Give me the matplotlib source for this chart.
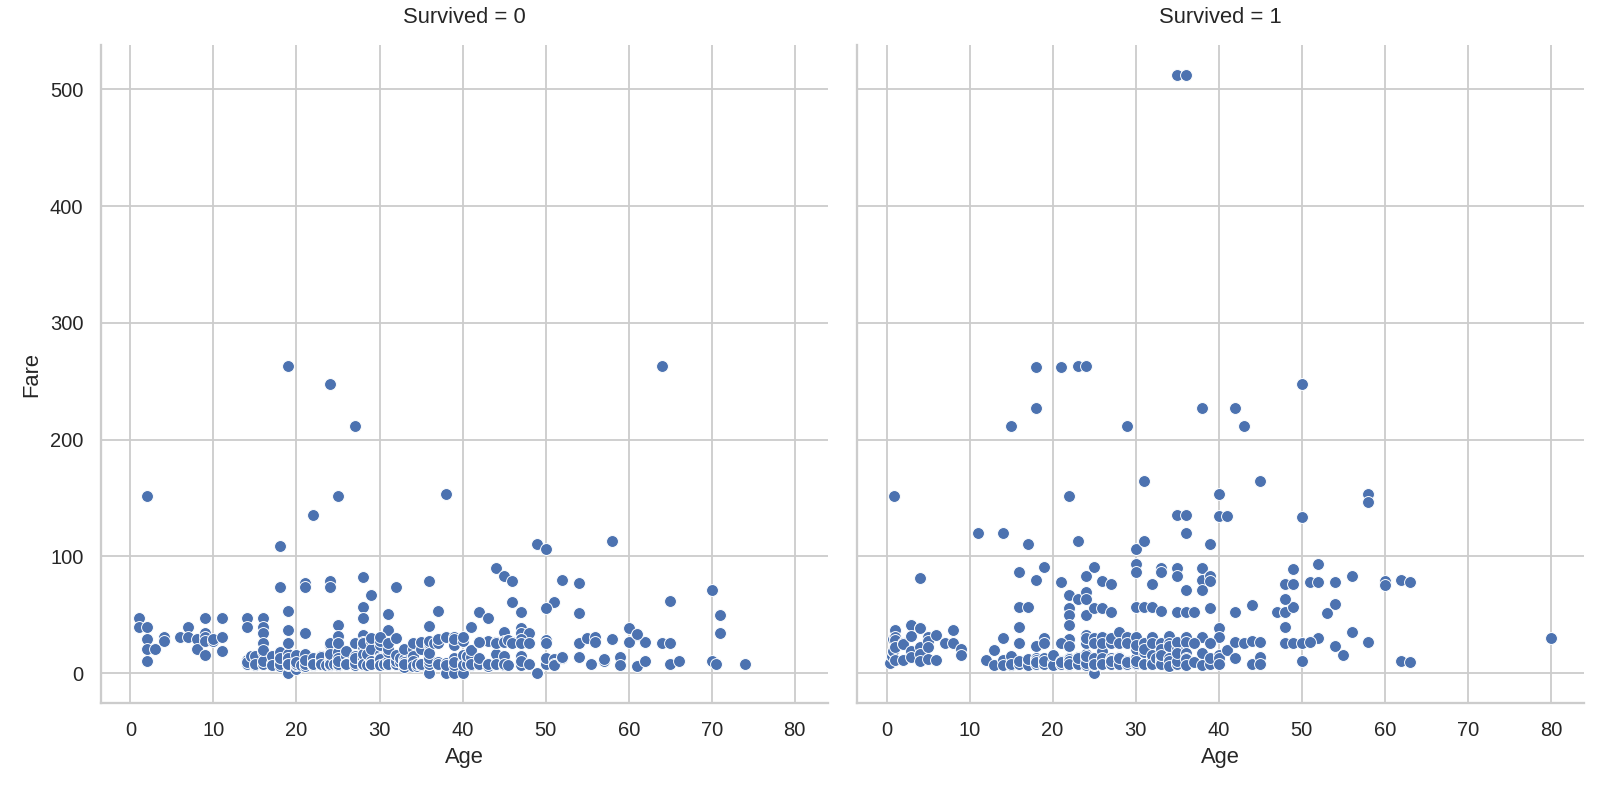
import matplotlib
matplotlib.use("Agg")
import matplotlib.pyplot as plt
import seaborn as sns
import pandas as pd

# Survived = 0 : age / fare
died_age = [
    2, 19, 64, 24, 27, 25, 38, 22,
    18, 49, 50, 58, 44, 45, 46, 28,
    21, 21, 24, 24, 18, 32, 36, 29,
    54, 52, 70, 65, 51, 46, 50, 42,
    37, 19, 28, 28, 54, 71, 71, 25,
    47, 47, 47, 43, 31, 31, 36, 19, 21,
    28, 41, 45, 48, 60, 61,
    58, 60, 62, 64, 65, 54, 55, 56, 56, 50,
    37, 39, 39, 42, 43, 44, 45, 46, 47,
    # children
    1, 1, 2, 2, 2, 2, 3, 4, 4, 6, 7, 7, 8, 8,
    9, 9, 9, 9, 9, 10, 10, 11, 11, 11,
    # teens and the dense low-fare band
    14, 14, 14, 14, 14, 14.5, 15, 15, 15,
    16, 16, 16, 16, 16, 16, 16, 16, 16, 16,
    17, 17, 17, 17, 17,
    18, 18, 18, 18, 18, 18, 18, 18, 18, 18, 18,
    19, 19, 19, 19, 19, 19, 19, 19, 19, 19, 19, 19, 19,
    20, 20, 20, 20, 20, 20, 20, 20, 20, 20, 20, 20, 20.5,
    21, 21, 21, 21, 21, 21, 21, 21, 21, 21, 21, 21, 21, 21, 21, 21,
    22, 22, 22, 22, 22, 22, 22, 22, 22, 22, 22, 22, 22,
    23, 23, 23, 23, 23, 23, 23, 23, 23, 23, 23.5,
    24, 24, 24, 24, 24, 24, 24, 24, 24, 24, 24, 24, 24, 24.5,
    25, 25, 25, 25, 25, 25, 25, 25, 25, 25, 25, 25, 25, 25,
    26, 26, 26, 26, 26, 26, 26, 26, 26,
    27, 27, 27, 27, 27, 27, 27,
    28, 28, 28, 28, 28, 28, 28, 28, 28, 28, 28, 28, 28, 28, 28.5, 28.5,
    29, 29, 29, 29, 29, 29, 29, 29, 29, 29,
    30, 30, 30, 30, 30, 30, 30, 30, 30, 30, 30, 30, 30, 30, 30.5, 30.5,
    31, 31, 31, 31, 31, 31, 31, 31,
    32, 32, 32, 32, 32, 32, 32, 32, 32.5, 32.5,
    33, 33, 33, 33, 33, 33, 33, 33,
    34, 34, 34, 34, 34, 34, 34, 34, 34.5, 34.5,
    35, 35, 35, 35, 35, 35, 35,
    36, 36, 36, 36, 36, 36, 36, 36, 36, 36, 36, 36.5,
    37, 37, 37, 37, 37,
    38, 38, 38, 38, 38,
    39, 39, 39, 39, 39, 39, 39, 39, 39,
    40, 40, 40, 40, 40, 40, 40, 40.5, 40.5, 40.5,
    41, 41, 41, 41,
    42, 42, 42, 42, 42, 42,
    43, 43, 43,
    44, 44, 44, 44,
    45, 45, 45, 45, 45, 45.5, 45.5,
    46, 47, 47, 47, 47, 47, 47, 48, 48, 49,
    50, 50, 50, 51, 51, 51, 52, 52, 54, 55.5,
    57, 57, 59, 59, 61, 61, 62, 65, 66, 70, 70.5, 74,
]
died_fare = [
    151.55, 263, 263, 247.52, 211.5, 151.55, 153.46, 135.63,
    108.9, 110.88, 106.43, 113.28, 90, 83.5, 79.2, 82.17,
    77.29, 73.5, 79.2, 73.5, 73.5, 73.5, 78.85, 66.6,
    77.29, 79.65, 71, 61.98, 61.38, 61.17, 55.9, 52,
    53.1, 53.1, 56.5, 47.1, 51.86, 49.5, 34.65, 41.58,
    52, 38.5, 34, 46.9, 50.5, 37, 40.13, 36.75, 34.38,
    33, 39.69, 35.5, 34.38, 39, 32.32,
    29.7, 26.55, 26.55, 26, 26, 26, 30.5, 30.7, 26.55, 28.71,
    27.7, 26.55, 29.13, 27, 27.72, 26.55, 27.9, 26.29, 29.1,
    # children
    46.9, 39.69, 39.69, 29.13, 21.08, 10.46, 21.08, 31.28, 27.9, 31.28, 39.69, 31.39, 29.13, 21.08,
    46.9, 34.38, 31.28, 27.9, 15.25, 27.9, 29.13, 46.9, 31.28, 18.79,
    # teens and the dense low-fare band
    46.9, 39.69, 7.85, 11.24, 9.23, 14.45, 7.23, 14.45, 8.03,
    46.9, 39.69, 34.38, 25.93, 18, 9.5, 8.05, 7.75, 10.5, 20.25,
    7.9, 8.66, 7.13, 14.46, 7.23,
    7.8, 8.05, 14.45, 17.8, 11.5, 18, 7.75, 6.5, 9.35, 7.5, 13,
    0, 7.9, 8.05, 7.78, 10.17, 14.5, 6.75, 7.88, 16.1, 26, 13, 8.16, 7.65,
    8.05, 7.85, 9.85, 7.92, 7.23, 9.5, 4.01, 7.05, 15.74, 8.66, 7.93, 9.22, 7.25,
    7.92, 8.43, 7.8, 8.05, 11.5, 7.73, 7.75, 16.1, 8.66, 10.5, 7.25, 7.85, 9.5, 6.5, 8.05, 11.5,
    7.25, 7.13, 9, 7.52, 8.05, 7.8, 7.9, 10.52, 9.35, 13, 7.23, 8.05, 7.8,
    7.85, 13, 15.05, 7.55, 9.22, 7.85, 8.05, 10.5, 13.79, 7.55, 7.23,
    8.05, 7.5, 16.7, 7.8, 13, 9.5, 7.14, 7.05, 15.85, 24.15, 26, 7.5, 16.1, 8.05,
    7.65, 7.9, 7.05, 7.23, 7.74, 17.8, 26, 7.78, 13, 7.25, 7.9, 10.5, 31.5, 26,
    8.66, 7.9, 7.85, 14.45, 18.79, 7.78, 8.05, 7.89, 7.93,
    10.5, 7.8, 6.97, 8.66, 14.45, 26, 13,
    7.9, 7.9, 9.5, 26.55, 7.23, 10.5, 7.85, 13, 22.53, 7.9, 8.05, 16.1, 26, 7.9, 7.23, 16.1,
    7.88, 9.48, 7.75, 27.72, 10.46, 21, 7.9, 30, 8.05, 7.78,
    8.05, 7.23, 8.66, 16.1, 13, 9.5, 7.9, 24.15, 7.63, 27.75, 7.75, 31, 12.47, 6.95, 7.75, 8.05,
    7.78, 7.85, 10.5, 7.75, 18, 20.53, 26.25, 8.05,
    7.93, 8.36, 7.92, 7.75, 8.05, 10.5, 15.85, 30.5, 9.5, 13,
    5, 7.9, 8.65, 12.28, 9.5, 20.53, 7.9, 8.05,
    8.05, 13, 7.9, 21, 14.4, 10.5, 26, 6.5, 6.44, 7.83,
    8.05, 26, 7.13, 21, 7.05, 26.29, 8.05,
    0, 7.5, 12.88, 24.15, 26, 7.9, 15.55, 10.5, 27.75, 13, 17.4, 26,
    7.93, 26, 29.7, 9.59, 7.75,
    0, 7.9, 8.66, 7.05, 31.39,
    0, 7.93, 13, 26, 31.28, 24.15, 7.25, 29.13, 9.55,
    0, 9.48, 27.72, 7.9, 31.28, 15.5, 7.23, 7.75, 14.5, 15.1,
    7.13, 14.11, 20.21, 7.85,
    7.55, 8.66, 7.65, 27, 13, 26.29,
    8.05, 6.45, 7.9,
    8.05, 16.1, 7.93, 26,
    8.05, 14.46, 6.98, 26.55, 7.75, 7.23, 28.5,
    26, 9, 14.5, 7.25, 25.59, 15, 10.5, 7.85, 25.93, 0,
    8.05, 13, 26, 12.52, 8.05, 7.05, 13, 13.5, 14, 8.05,
    10.5, 12.35, 13.5, 7.25, 6.24, 33.5, 10.5, 7.75, 10.5, 10.5, 7.75, 7.78,
]

# Survived = 1 : age / fare
surv_age = [
    35, 36, 18, 21, 23, 24, 50, 18, 38, 42, 15, 29, 43, 31, 45,
    0.92, 22, 40, 58, 58, 35, 36, 40, 41, 50, 11, 14, 36, 17, 39, 23, 30, 31,
    4, 16, 18, 19, 21, 24, 25, 26, 27,
    22, 23, 24, 24, 22, 22, 22, 24,
    25, 26, 27, 30, 30, 32, 33, 33, 35, 35, 36,
    30, 31, 32, 33, 35, 16, 17, 16, 14,
    38, 38, 39, 39, 38, 36, 37, 39, 42, 44,
    47, 48, 49, 48, 48, 49, 49, 51, 52, 52, 54, 56, 54, 53, 60, 60, 62, 63,
    40, 40, 38, 48, 56, 52, 80, 18, 19, 22,
    # children
    0.42, 0.67, 0.75, 0.75, 0.83, 0.83, 1, 1, 1, 1, 1,
    2, 2, 2, 3, 3, 3, 3, 4, 4, 4, 4, 4,
    5, 5, 5, 5, 6, 6, 7, 8, 8, 9, 9,
    # low-fare band
    12, 13, 13, 14, 14, 15, 15, 15,
    16, 16, 16, 16, 17, 17, 17, 17,
    18, 18, 18, 18, 18, 18,
    19, 19, 19, 19, 19, 19,
    20, 20, 20, 20, 20,
    21, 21, 21, 21, 21,
    22, 22, 22, 22, 22, 22, 22, 22, 22, 22,
    23, 23, 23, 23, 23,
    24, 24, 24, 24, 24, 24, 24, 24, 24,
    25, 25, 25, 25, 25, 25, 25, 25,
    26, 26, 26, 26, 26, 26, 26, 26,
    27, 27, 27, 27, 27, 27, 27, 27, 27,
    28, 28, 28, 28, 28, 28, 28,
    29, 29, 29, 29, 29, 29, 29,
    30, 30, 30, 30, 30, 30, 30, 30, 30,
    31, 31, 31, 31, 31, 31, 31,
    32, 32, 32, 32, 32, 32, 32, 32, 32, 32.5,
    33, 33, 33, 33, 33, 33, 33,
    34, 34, 34, 34, 34, 34,
    35, 35, 35, 35, 35, 35, 35,
    36, 36, 36, 36, 36, 36,
    37, 37, 38, 38, 39, 39, 39,
    40, 40, 40, 41, 42, 42, 43, 44, 44,
    45, 45, 45, 48, 49, 50, 50, 51,
    54, 55, 58, 62, 63,
]
surv_fare = [
    512.33, 512.33, 262.38, 262.38, 263, 263, 247.52, 227.53, 227.53, 227.53, 211.34, 211.34, 211.34, 164.87, 164.87,
    151.55, 151.55, 153.46, 153.46, 146.52, 135.63, 135.63, 134.5, 134.5, 133.65, 120, 120, 120, 110.88, 110.88, 113.28, 106.43, 113.28,
    81.86, 86.5, 79.65, 91.08, 77.96, 83.16, 91.08, 78.85, 76.73,
    66.6, 63.36, 69.3, 63.36, 55.44, 49.5, 41.58, 49.5,
    55.44, 55.9, 52.55, 93.5, 86.5, 76.73, 90, 86.5, 90, 83.47, 71,
    56.93, 56.93, 56.5, 53.1, 52, 57, 57, 39.4, 30.07,
    90, 80, 83.16, 79.2, 71.28, 52.3, 52.55, 55.9, 52.55, 57.98,
    52.55, 52, 56.93, 63.36, 76.73, 76.73, 89.1, 77.96, 78.27, 93.5, 78.27, 83.16, 59.4, 51.48, 79.2, 75.25, 80, 77.96,
    39, 31, 31.39, 39.6, 35.5, 30.5, 30, 23, 30, 29,
    # children
    8.52, 14.5, 19.26, 19.26, 29, 18.75, 11.13, 37.3, 31.2, 28.3, 22.6,
    26, 25.4, 11.1, 41.58, 31.8, 18.75, 13.78, 39, 38.3, 22.6, 16.7, 10.3,
    31, 27.75, 22.6, 12.4, 32.4, 11.7, 26.25, 36.75, 26.25, 20.53, 15.9,
    # low-fare band
    11.24, 19.5, 7.23, 11.24, 7.23, 14.45, 7.23, 8.03,
    7.75, 7.73, 10.5, 26, 7.93, 10.5, 7.23, 12,
    9.84, 13, 7.78, 7.75, 11.13, 9.35,
    7.85, 26, 7.88, 8.05, 13, 10.5,
    7.93, 9.83, 7.23, 7.25, 15.74,
    7.65, 7.75, 10.5, 26, 9.82,
    7.23, 7.75, 10.52, 13, 7.78, 12.35, 9.84, 10.5, 7.8, 23.25,
    7.55, 13.79, 7.85, 8.05, 13,
    33, 13, 15.85, 16.1, 7.14, 8.85, 26, 14.5, 30,
    0, 26, 30.5, 7.23, 7.78, 13, 7.65, 26,
    31.3, 7.93, 18.79, 7.78, 8.05, 13, 7.78, 26,
    25.6, 7.79, 12.35, 13, 11.13, 7.75, 10.5, 26, 30.5,
    35.5, 26, 7.89, 13.86, 12.65, 7.9, 13,
    26, 31.3, 7.93, 10.5, 7.9, 9.5, 26,
    22.7, 31.3, 12.47, 7.75, 8.66, 13, 10.5, 21, 24.15,
    25.6, 7.85, 26.25, 18, 8.05, 7.9, 20.53,
    31.3, 7.93, 8.05, 7.75, 13, 26, 7.85, 15.5, 7.58, 13,
    25.6, 12.28, 9.5, 7.9, 26, 20.53, 15.85,
    32, 26, 13, 23, 10.5, 6.5,
    25.6, 21, 26.29, 7.75, 8.05, 10.5, 17,
    31.3, 26.39, 17.4, 13, 12.18, 7.25,
    26, 9.59, 7.23, 17.4, 7.93, 26, 13,
    15.5, 13, 7.78, 19.5, 26.55, 13, 26.25, 27.72, 7.93,
    26.55, 13.5, 8.05, 25.93, 25.93, 26, 10.5, 26.55,
    23, 16, 26.55, 10.5, 9.59,
]

panels = [("Survived = 0", died_age, died_fare),
          ("Survived = 1", surv_age, surv_fare)]

sns.set_theme(style="whitegrid")
plt.rcParams['font.family'] = ['Liberation Sans', 'DejaVu Sans']

DPI = 132
fig, axs = plt.subplots(1, 2, sharex=True, sharey=True,
                        figsize=(1600 / DPI, 790 / DPI), dpi=DPI)
plt.subplots_adjust(left=0.063, right=0.99, bottom=0.110, top=0.943,
                    wspace=0.04)

for ax, (title, age, fare) in zip(axs, panels):
    df = pd.DataFrame({"Age": age, "Fare": fare})
    sns.scatterplot(data=df, x="Age", y="Fare", ax=ax, color="#4c72b0", s=42)
    ax.set_title(title, pad=12)

axs[1].set_ylabel("")
axs[1].tick_params(axis="y", labelleft=False)
sns.despine(fig=fig)

fig.savefig("out.png", dpi=DPI)
